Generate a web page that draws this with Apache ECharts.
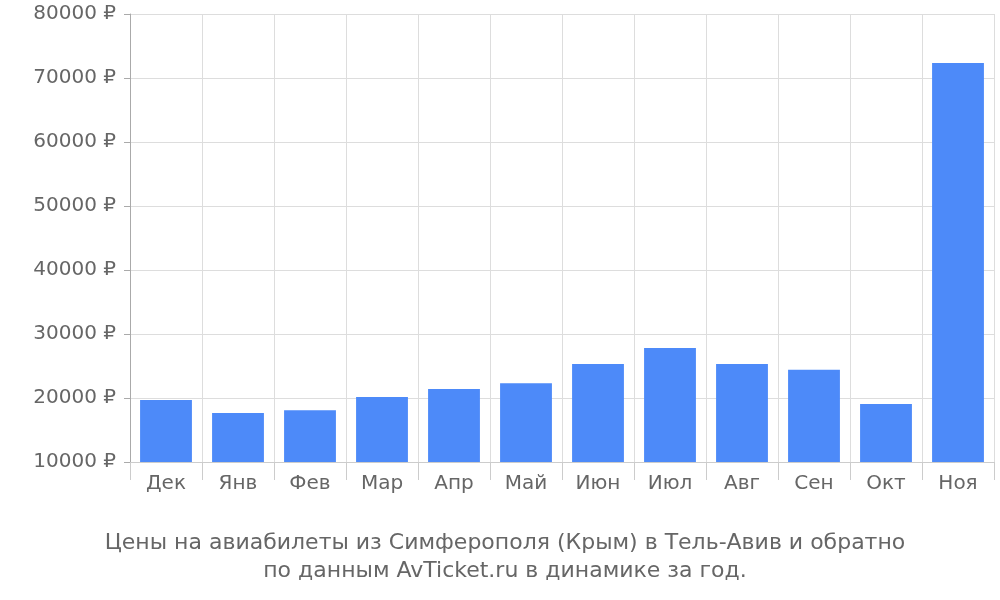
<!DOCTYPE html>
<html><head><meta charset="utf-8">
<script src="https://cdn.jsdelivr.net/npm/echarts@6/dist/echarts.min.js"></script>
<style>body{margin:0}#c{width:1000px;height:600px}</style></head>
<body><div id="c"></div>
<script>
const categories=['Дек','Янв','Фев','Мар','Апр','Май','Июн','Июл','Авг','Сен','Окт','Ноя'];
const prices=[19700,17650,18100,20150,21400,22300,25300,27800,25300,24400,19050,72350];
const titleLines=['Цены на авиабилеты из Симферополя (Крым) в Тель-Авив и обратно','по данным AvTicket.ru в динамике за год.'];
const chart=echarts.init(document.getElementById('c'));
chart.setOption({
  animation:false,
  textStyle:{fontFamily:'DejaVu Sans'},
  title:{text:titleLines.join('\n'),left:500,textAlign:'center',bottom:10,
    textStyle:{color:'#666',fontSize:22,fontWeight:'normal',lineHeight:28,fontFamily:'DejaVu Sans'}},
  grid:{left:130,right:6,top:14,bottom:138},
  xAxis:{type:'category',data:categories,
    axisLine:{show:true,lineStyle:{color:'#ccc'}},
    axisTick:{show:true,length:18,lineStyle:{color:'#ccc'}},
    splitLine:{show:true,lineStyle:{color:'#ddd'}},
    axisLabel:{color:'#666',fontSize:20,margin:12}},
  yAxis:{type:'value',min:10000,max:80000,interval:10000,
    axisLine:{show:true,lineStyle:{color:'#aaa'}},
    axisTick:{show:true,length:6,lineStyle:{color:'#aaa'}},
    splitLine:{lineStyle:{color:'#ddd'}},
    axisLabel:{color:'#666',fontSize:20,formatter:v=>v+' ₽',margin:14}},
  series:[{type:'bar',data:prices,barWidth:'72%',itemStyle:{color:'#4d8af9'}}]
});
</script></body></html>
